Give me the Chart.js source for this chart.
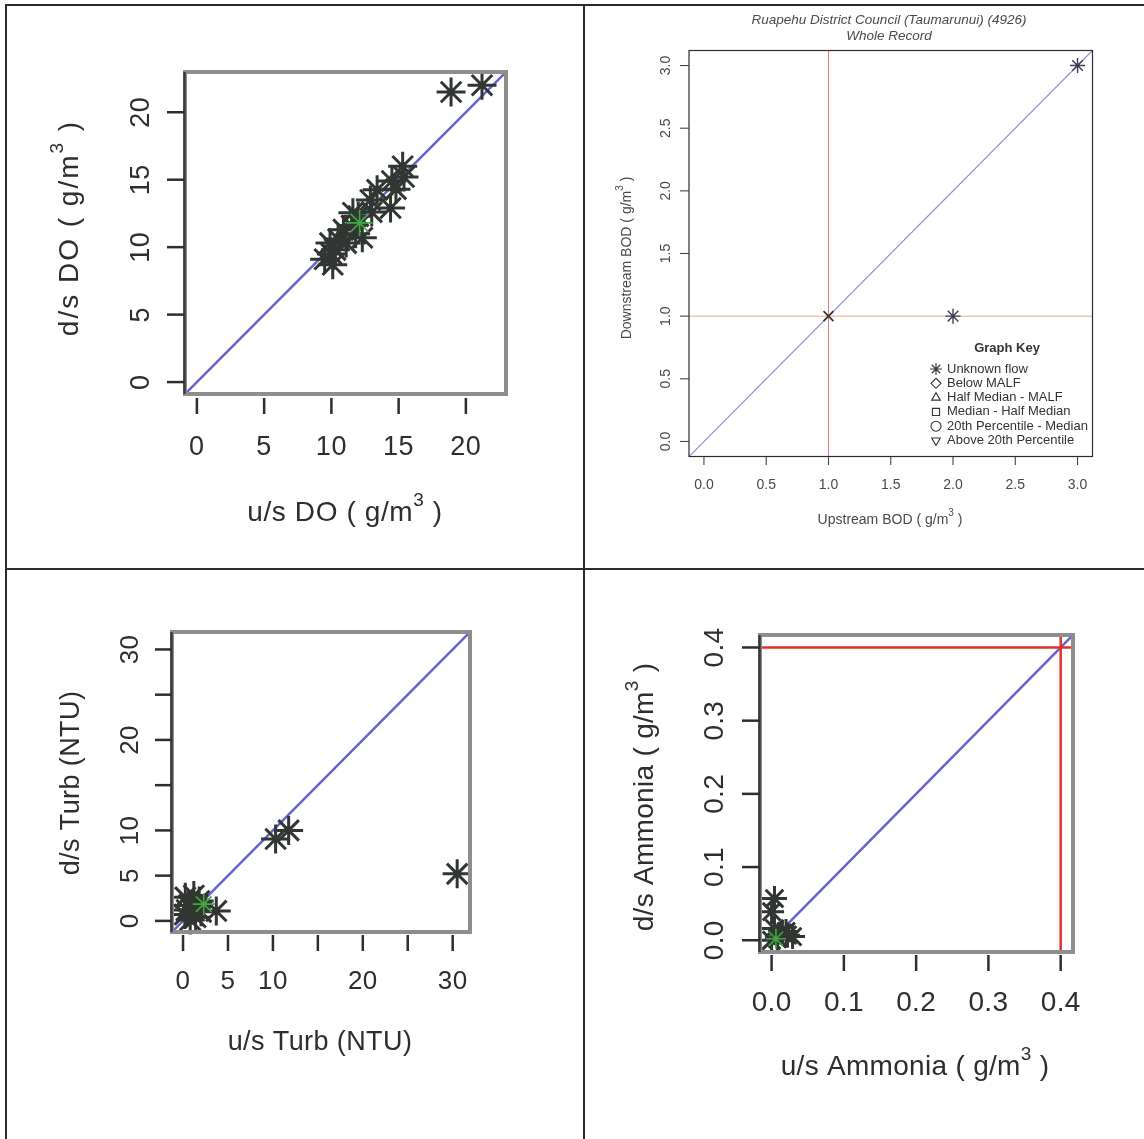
<!DOCTYPE html>
<html><head><meta charset="utf-8">
<script src="https://cdn.jsdelivr.net/npm/chart.js@4.4.1/dist/chart.umd.min.js"></script>
<style>
html,body{margin:0;padding:0;background:#fff;}
#wrap{position:relative;width:1144px;height:1139px;overflow:hidden;background:#fff;}
#wrap canvas{position:absolute;left:0;top:0;}
.rule{position:absolute;background:#2b2b2b;}
</style></head><body>
<div id="wrap">
<div class="rule" style="left:5px;top:4px;width:1139px;height:2px"></div>
<div class="rule" style="left:5px;top:4px;width:2px;height:1135px"></div>
<div class="rule" style="left:583px;top:4px;width:2px;height:1135px"></div>
<div class="rule" style="left:5px;top:568px;width:1139px;height:2px"></div>
<canvas id="c1" width="1144" height="1139"></canvas>
<canvas id="c2" width="1144" height="1139"></canvas>
<canvas id="c3" width="1144" height="1139"></canvas>
<canvas id="c4" width="1144" height="1139"></canvas>
</div>
<script>
// ---------------- DATA ----------------
// Panel 1: Dissolved oxygen (g/m3)
const doUp   = [21.2, 18.9, 15.3, 15.4, 14.5, 14.8, 14.4, 13.4, 12.9, 13.0, 11.6, 12.3, 10.9, 11.1, 9.9, 10.3, 9.5, 10.1, 10.5, 11.5, 12.0, 10.0, 11.8];
const doDown = [22.0, 21.5, 16.0, 15.2, 14.9, 14.3, 12.9, 14.25, 13.5, 12.6, 12.55, 10.7, 11.3, 10.3, 10.3, 9.8, 9.1, 8.7, 10.6, 11.6, 12.3, 9.5, 11.0];
const doGreenUp = [12.1];
const doGreenDown = [11.8];
const doRange = [0, 22.1];
const doTicks = [0, 5, 10, 15, 20];
const doTickLabels = ['0', '5', '10', '15', '20'];

// Panel 2: BOD (g/m3)
const bodUp   = [3.0, 2.0];
const bodDown = [3.0, 1.0];
const bodCrossUp = [1.0];
const bodCrossDown = [1.0];
const bodGuideX = 1.0;
const bodGuideY = 1.0;
const bodRange = [0, 3.0];
const bodTicks = [0, 0.5, 1.0, 1.5, 2.0, 2.5, 3.0];
const bodTickLabels = ['0.0', '0.5', '1.0', '1.5', '2.0', '2.5', '3.0'];
const bodTitle = ['Ruapehu District Council (Taumarunui) (4926)', 'Whole Record'];
const keyTitle = 'Graph Key';
const keyLabels = ['Unknown flow', 'Below MALF', 'Half Median - MALF', 'Median - Half Median', '20th Percentile - Median', 'Above 20th Percentile'];
const keyStyles = ['star', 'rectRot', 'triangle', 'rect', 'circle', 'triangle'];
const keyRotations = [0, 0, 0, 0, 0, 180];

// Panel 3: Turbidity (NTU)
const turbUp   = [30.5, 11.75, 10.3, 3.7, 0.25, 0.6, 0.2, 1.4, 1.0, 1.8, 0.8, 1.5, 0.4, 2.0, 1.2];
const turbDown = [5.2, 10.0, 9.05, 1.1, 2.6, 1.7, 0.7, 0.4, 1.2, 2.2, 0.1, 1.5, 1.2, 1.0, 2.8];
const turbGreenUp = [2.3];
const turbGreenDown = [1.85];
const turbRange = [0, 30.7];
const turbTicks = [0, 5, 10, 15, 20, 25, 30];
const turbTickLabels = ['0', '5', '10', '', '20', '', '30'];

// Panel 4: Ammonia (g/m3)
const nh3Up   = [0.004, 0.0, 0.004, 0.029, 0.015, 0.008, 0.02, 0.0, 0.022];
const nh3Down = [0.057, 0.039, 0.016, 0.005, 0.010, 0.002, 0.012, 0.0, 0.007];
const nh3GreenUp = [0.006];
const nh3GreenDown = [0.002];
const nh3GuideX = 0.4;
const nh3GuideY = 0.4;
const nh3Range = [0, 0.401];
const nh3Ticks = [0, 0.1, 0.2, 0.3, 0.4];
const nh3TickLabels = ['0.0', '0.1', '0.2', '0.3', '0.4'];

// Axis titles
const titles = {
  doX: 'u/s DO ( g/m^3 )', doY: 'd/s DO ( g/m^3 )',
  bodX: 'Upstream BOD ( g/m^3 )', bodY: 'Downstream BOD ( g/m^3 )',
  turbX: 'u/s Turb (NTU)', turbY: 'd/s Turb (NTU)',
  nh3X: 'u/s Ammonia ( g/m^3 )', nh3Y: 'd/s Ammonia ( g/m^3 )'
};

// ---------------- HELPERS ----------------
const FONT = '"Liberation Sans", Arial, sans-serif';
const W = 1144, H = 1139;
function rLimits(r) { const d = (r[1] - r[0]) * 0.04; return [r[0] - d, r[1] + d]; }
function pts(xs, ys) { return xs.map((v, i) => ({ x: v, y: ys[i] })); }

function drawRich(ctx, str, size, cx, cy, rot, color, style, spacing) {
  const parts = [];
  str.split(/\^(\w)/).forEach((t, i) => { if (t) parts.push({ t, sup: i % 2 === 1 }); });
  ctx.save();
  ctx.translate(cx, cy);
  if (rot) ctx.rotate(rot);
  if ('letterSpacing' in ctx) ctx.letterSpacing = (spacing || 0) + 'px';
  const base = (style || '') + ' ' + size + 'px ' + FONT;
  const sup = (style || '') + ' ' + Math.round(size * 0.68) + 'px ' + FONT;
  let w = 0;
  parts.forEach(p => { ctx.font = p.sup ? sup : base; w += ctx.measureText(p.t).width; });
  let x = -w / 2;
  ctx.fillStyle = color; ctx.textBaseline = 'middle'; ctx.textAlign = 'left';
  parts.forEach(p => {
    ctx.font = p.sup ? sup : base;
    ctx.fillText(p.t, x, p.sup ? -size * 0.45 : 0);
    x += ctx.measureText(p.t).width;
  });
  ctx.restore();
}

const panelDecor = {
  id: 'panelDecor',
  afterDatasetsDraw(chart, args, o) {
    const { ctx, chartArea: a } = chart;
    const sx = chart.scales.x, sy = chart.scales.y;
    ctx.save();
    // box
    ctx.strokeStyle = o.boxColor; ctx.lineWidth = o.boxWidth;
    ctx.strokeRect(a.left, a.top, a.right - a.left, a.bottom - a.top);
    if (o.leftEdge) {
      ctx.strokeStyle = o.leftEdge; ctx.lineWidth = o.leftEdgeWidth;
      ctx.beginPath(); ctx.moveTo(a.left - 0.5, a.top); ctx.lineTo(a.left - 0.5, a.bottom); ctx.stroke();
    }
    // ticks
    ctx.strokeStyle = o.tickColor; ctx.lineWidth = o.tickWidth;
    o.xTicks.forEach((v, i) => {
      const px = sx.getPixelForValue(v);
      ctx.beginPath(); ctx.moveTo(px, o.xTickY[0]); ctx.lineTo(px, o.xTickY[1]); ctx.stroke();
      if (o.xLabels[i]) drawRich(ctx, o.xLabels[i], o.tickSize, px, o.xLabelY, 0, o.textColor, '', o.spacing);
    });
    o.yTicks.forEach((v, i) => {
      const py = sy.getPixelForValue(v);
      ctx.beginPath(); ctx.moveTo(o.yTickX[0], py); ctx.lineTo(o.yTickX[1], py); ctx.stroke();
      if (o.yLabels[i]) drawRich(ctx, o.yLabels[i], o.tickSize, o.yLabelX, py, -Math.PI / 2, o.textColor, '', o.spacing);
    });
    // axis titles
    drawRich(ctx, o.xTitle, o.titleSize, o.xTitlePos[0], o.xTitlePos[1], 0, o.textColor, '', o.spacing);
    drawRich(ctx, o.yTitle, o.titleSize, o.yTitlePos[0], o.yTitlePos[1], -Math.PI / 2, o.textColor, '', o.ySpacing || o.spacing);
    // main title
    if (o.main) {
      o.main.forEach((t, i) => drawRich(ctx, t, o.mainSize, o.mainPos[0], o.mainPos[1] + i * o.mainStep, 0, o.textColor, 'italic'));
    }
    // key
    if (o.key) {
      const k = o.key;
      drawRich(ctx, k.title, k.size, k.titlePos[0], k.titlePos[1], 0, '#333', 'bold');
      k.labels.forEach((lab, i) => {
        const y = k.y0 + i * k.dy;
        ctx.strokeStyle = '#333'; ctx.fillStyle = 'rgba(0,0,0,0)'; ctx.lineWidth = 1.1;
        Chart.helpers.drawPoint(ctx, { pointStyle: k.styles[i], rotation: k.rotations[i],
          radius: k.styles[i] === 'star' ? 6 : 5, borderWidth: 1.1 }, k.symX, y);
        ctx.fillStyle = '#333'; ctx.font = k.size + 'px ' + FONT; ctx.textBaseline = 'middle'; ctx.textAlign = 'left';
        ctx.fillText(lab, k.textX, y);
      });
    }
    ctx.restore();
  }
};

function makePanel(id, box, range, datasets, decor) {
  const lim = rLimits(range);
  return new Chart(document.getElementById(id), {
    type: 'scatter',
    data: { datasets },
    options: {
      responsive: false, animation: false, events: [],
      layout: { padding: { left: box[0], top: box[1], right: W - box[2], bottom: H - box[3] } },
      scales: {
        x: { type: 'linear', display: false, min: lim[0], max: lim[1] },
        y: { type: 'linear', display: false, min: lim[0], max: lim[1] }
      },
      plugins: { legend: { display: false }, tooltip: { enabled: false }, panelDecor: decor }
    },
    plugins: [panelDecor]
  });
}

function starSet(data, color, r, bw, order) {
  return { type: 'scatter', data, pointStyle: 'star', pointRadius: r, pointBorderWidth: bw,
           pointBorderColor: color, pointBackgroundColor: color, order: order || 0, clip: 6 };
}
function lineSet(data, color, w, order) {
  return { type: 'scatter', data, showLine: true, borderColor: color, borderWidth: w,
           pointRadius: 0, order: order || 5, clip: 0 };
}
function diag(range) { const l = rLimits(range); return [{ x: l[0], y: l[0] }, { x: l[1], y: l[1] }]; }
function vline(v, range) { const l = rLimits(range); return [{ x: v, y: l[0] }, { x: v, y: l[1] }]; }
function hline(v, range) { const l = rLimits(range); return [{ x: l[0], y: v }, { x: l[1], y: v }]; }

const DARK = '#323633';
const GREEN = '#3fa83f';
const BLUE = '#6a62cc';

// Panel 1
makePanel('c1', [185, 72, 506, 394], doRange, [
  starSet(pts(doUp, doDown), DARK, 14.5, 3, 1),
  starSet(pts(doGreenUp, doGreenDown), GREEN, 13, 1.6, 0),
  lineSet(diag(doRange), BLUE, 2.5, 0)
], {
  boxColor: '#8e8e8e', boxWidth: 4, leftEdge: '#3a3a3a', leftEdgeWidth: 2.5,
  tickColor: '#2e2e2e', tickWidth: 2.5, textColor: '#2e2e2e', tickSize: 27, titleSize: 28,
  spacing: 0.6, ySpacing: 2,
  xTicks: doTicks, xLabels: doTickLabels, xTickY: [398, 414], xLabelY: 448,
  yTicks: doTicks, yLabels: doTickLabels, yTickX: [167, 184], yLabelX: 142,
  xTitle: titles.doX, xTitlePos: [345, 513], yTitle: titles.doY, yTitlePos: [70, 228]
});

// Panel 2
makePanel('c2', [689, 50.5, 1092.5, 456.5], bodRange, [
  starSet(pts(bodUp, bodDown), '#3b3d55', 7.5, 1.4, 0),
  { type: 'scatter', data: pts(bodCrossUp, bodCrossDown), pointStyle: 'crossRot', pointRadius: 7,
    pointBorderWidth: 1.7, pointBorderColor: '#333', order: 0 },
  lineSet(vline(bodGuideX, bodRange), '#e8796f', 1, 3),
  lineSet(hline(bodGuideY, bodRange), '#f0a57c', 1, 3),
  lineSet(diag(bodRange), '#8f8ee0', 1.1, 2)
], {
  boxColor: '#2e2e2e', boxWidth: 1.2,
  tickColor: '#444', tickWidth: 1.1, textColor: '#4a4a4a', tickSize: 14, titleSize: 14,
  xTicks: bodTicks, xLabels: bodTickLabels, xTickY: [457, 465], xLabelY: 485,
  yTicks: bodTicks, yLabels: bodTickLabels, yTickX: [680, 689], yLabelX: 666,
  xTitle: titles.bodX, xTitlePos: [890, 520], yTitle: titles.bodY, yTitlePos: [627, 258],
  main: bodTitle, mainSize: 13.5, mainPos: [889, 20.5], mainStep: 16,
  key: { title: keyTitle, size: 13, titlePos: [1007, 348], labels: keyLabels, styles: keyStyles,
         rotations: keyRotations, symX: 936, textX: 947, y0: 369, dy: 14.3 }
});

// Panel 3
makePanel('c3', [172, 632, 470, 932], turbRange, [
  starSet(pts(turbUp, turbDown), DARK, 14.5, 3, 1),
  starSet(pts(turbGreenUp, turbGreenDown), GREEN, 11, 1.6, 0),
  lineSet(diag(turbRange), BLUE, 2.5, 0)
], {
  boxColor: '#8e8e8e', boxWidth: 4, leftEdge: '#3a3a3a', leftEdgeWidth: 2.5,
  tickColor: '#2e2e2e', tickWidth: 2.5, textColor: '#2e2e2e', tickSize: 26, titleSize: 27,
  spacing: 0.4,
  xTicks: turbTicks, xLabels: turbTickLabels, xTickY: [935, 951], xLabelY: 982,
  yTicks: turbTicks, yLabels: turbTickLabels, yTickX: [155, 171], yLabelX: 131,
  xTitle: titles.turbX, xTitlePos: [320, 1043], yTitle: titles.turbY, yTitlePos: [72, 783]
});

// Panel 4
makePanel('c4', [760, 635, 1073, 952], nh3Range, [
  starSet(pts(nh3Up, nh3Down), DARK, 12.5, 3, 1),
  starSet(pts(nh3GreenUp, nh3GreenDown), GREEN, 10, 1.6, 0),
  lineSet(diag(nh3Range), BLUE, 2.5, 0),
  lineSet(vline(nh3GuideX, nh3Range), '#e4302c', 2.5, 2),
  lineSet(hline(nh3GuideY, nh3Range), '#e4302c', 2.5, 2)
], {
  boxColor: '#8e8e8e', boxWidth: 4, leftEdge: '#3a3a3a', leftEdgeWidth: 2.5,
  tickColor: '#2e2e2e', tickWidth: 2.5, textColor: '#2e2e2e', tickSize: 28, titleSize: 28,
  spacing: 0.3,
  xTicks: nh3Ticks, xLabels: nh3TickLabels, xTickY: [955, 971], xLabelY: 1003,
  yTicks: nh3Ticks, yLabels: nh3TickLabels, yTickX: [742, 760], yLabelX: 715,
  xTitle: titles.nh3X, xTitlePos: [915, 1067], yTitle: titles.nh3Y, yTitlePos: [645, 797]
});
</script>
</body></html>
